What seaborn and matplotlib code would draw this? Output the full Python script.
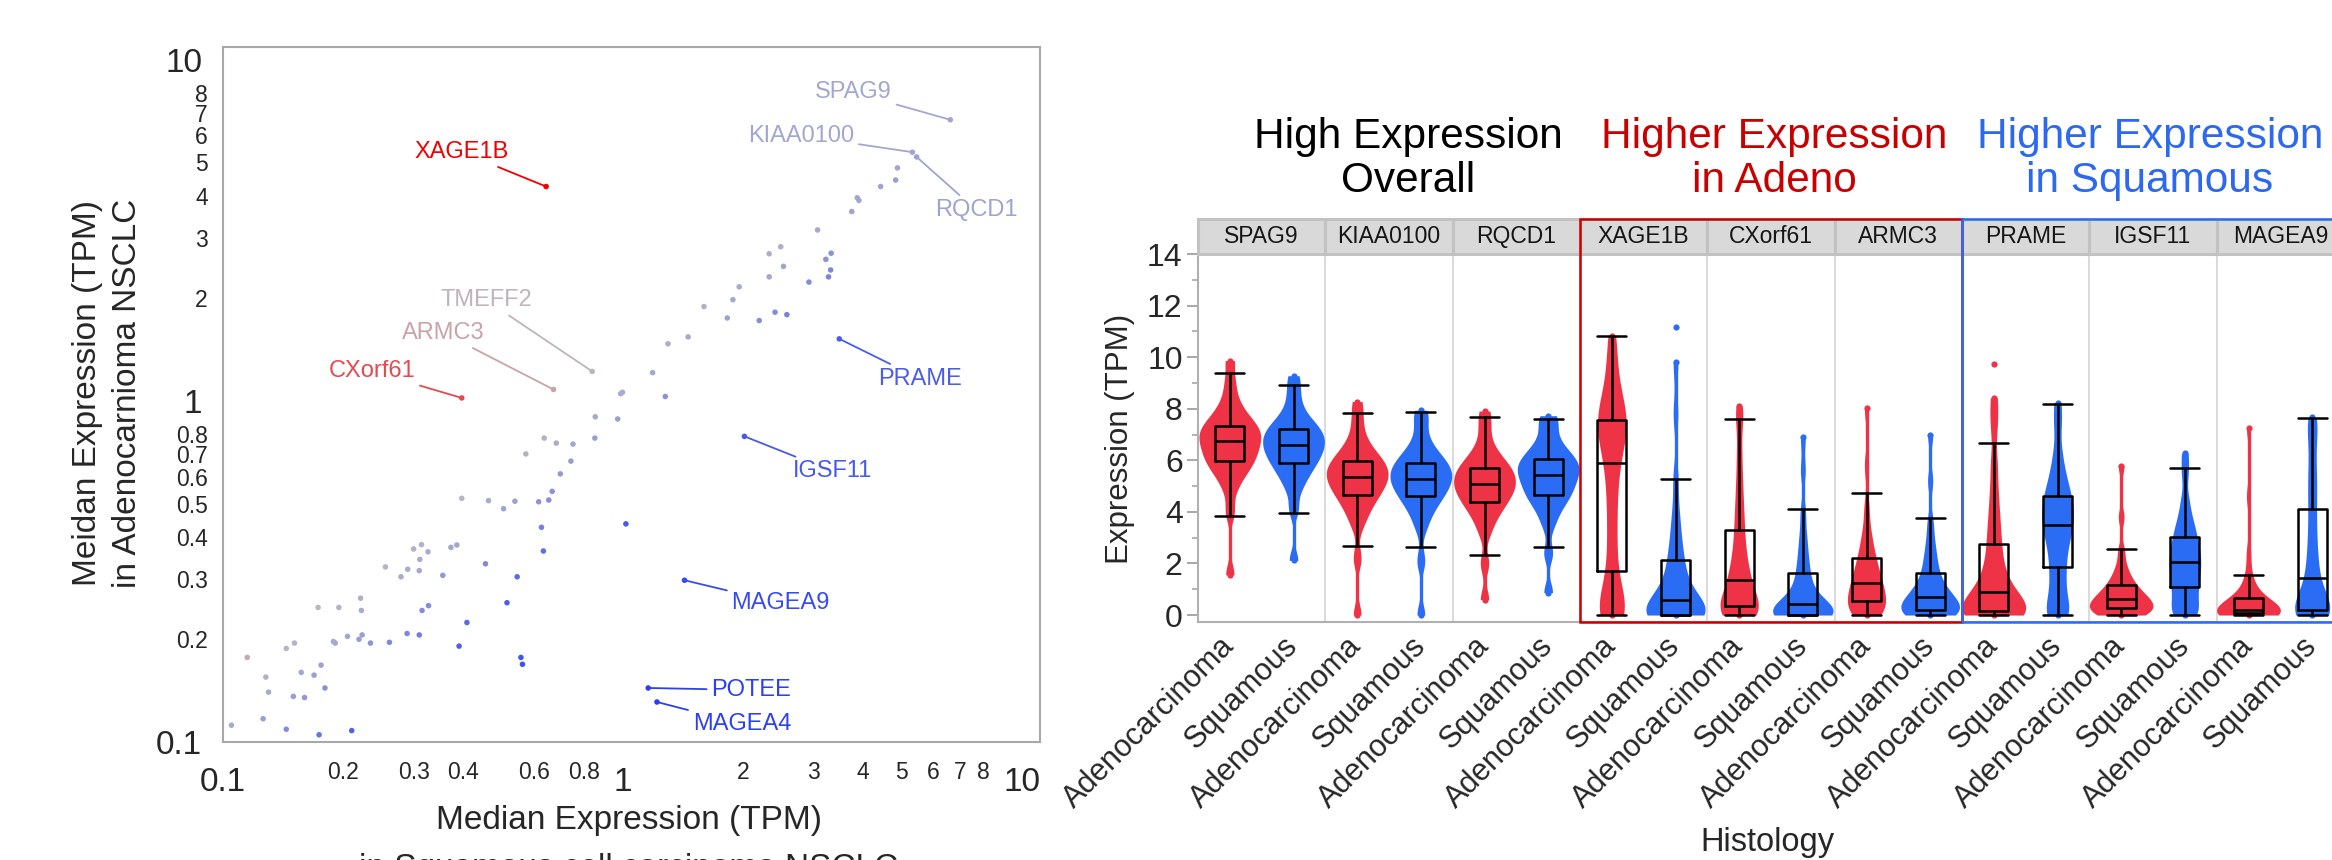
import numpy as np
import pandas as pd
import matplotlib
matplotlib.use('Agg')
import matplotlib.pyplot as plt
import matplotlib.transforms as mtransforms
from matplotlib.colors import LinearSegmentedColormap, Normalize
from matplotlib.patches import Rectangle
import seaborn as sns

sns.set_style('white')
plt.rcParams['font.family'] = ['Liberation Sans', 'DejaVu Sans']

# ---------------- left panel: median TPM, squamous (x) vs adeno (y) ----------------
squam_median = [4.88, 4.83, 4.43, 3.87, 3.91, 3.75, 3.08, 2.33, 2.49, 2.53, 2.33, 1.96, 1.89, 1.60,
                1.83, 2.20, 2.41, 2.58, 3.33, 3.23, 3.32, 3.28, 2.93, 1.46, 1.30, 1.19, 1.00, 0.99,
                1.28, 0.855, 0.973, 0.853, 0.752, 0.683, 0.637, 0.573, 0.743, 0.699, 0.667, 0.654,
                0.617, 0.538, 0.504, 0.462, 0.396, 0.627, 0.634, 1.02, 0.545, 0.514, 0.454, 0.408,
                0.390, 0.557, 0.562, 0.355, 0.326, 0.314, 0.300, 0.311, 0.310, 0.290, 0.279, 0.255,
                0.385, 0.372, 0.327, 0.315, 0.221, 0.222, 0.195, 0.173, 0.234, 0.223, 0.219, 0.205,
                0.261, 0.289, 0.310, 0.191, 0.189, 0.151, 0.144, 0.115, 0.128, 0.130, 0.157, 0.169,
                0.176, 0.180, 0.150, 0.160, 0.105, 0.126, 0.144, 0.174, 0.210]
adeno_median = [4.82, 4.44, 4.25, 3.94, 3.87, 3.59, 3.17, 2.70, 2.83, 2.48, 2.31, 2.16, 1.98, 1.89,
                1.75, 1.72, 1.82, 1.79, 2.71, 2.60, 2.42, 2.31, 2.23, 1.54, 1.47, 1.21, 1.06, 1.05,
                1.03, 0.898, 0.885, 0.778, 0.747, 0.752, 0.778, 0.699, 0.666, 0.611, 0.543, 0.512,
                0.506, 0.508, 0.483, 0.510, 0.518, 0.426, 0.363, 0.436, 0.305, 0.256, 0.333, 0.224,
                0.191, 0.177, 0.169, 0.308, 0.361, 0.379, 0.368, 0.343, 0.318, 0.321, 0.305, 0.326,
                0.378, 0.372, 0.251, 0.243, 0.264, 0.243, 0.248, 0.248, 0.195, 0.206, 0.200, 0.204,
                0.196, 0.208, 0.206, 0.195, 0.197, 0.195, 0.188, 0.177, 0.155, 0.140, 0.160, 0.157,
                0.168, 0.144, 0.136, 0.135, 0.112, 0.117, 0.109, 0.105, 0.108]

labeled_genes = ['SPAG9', 'KIAA0100', 'RQCD1', 'XAGE1B', 'TMEFF2', 'ARMC3', 'CXorf61',
                 'PRAME', 'IGSF11', 'MAGEA9', 'POTEE', 'MAGEA4']
labeled_squam = [6.62, 5.32, 5.45, 0.644, 0.84, 0.672, 0.396, 3.49, 2.02, 1.43, 1.16, 1.22]
labeled_adeno = [6.67, 5.36, 5.19, 4.25, 1.22, 1.08, 1.02, 1.52, 0.787, 0.298, 0.144, 0.131]
# where each gene name sits (data coords)
label_text_pos = {'SPAG9': (3.79, 8.02), 'KIAA0100': (2.80, 5.99), 'RQCD1': (7.7, 3.62),
                  'XAGE1B': (0.396, 5.36), 'TMEFF2': (0.457, 1.97), 'ARMC3': (0.357, 1.58),
                  'CXorf61': (0.236, 1.22), 'PRAME': (5.57, 1.16), 'IGSF11': (3.36, 0.621),
                  'MAGEA9': (2.49, 0.255), 'POTEE': (2.10, 0.142), 'MAGEA4': (1.99, 0.113)}

# ---------------- right panel: TPM distributions ----------------
genes = ['SPAG9', 'KIAA0100', 'RQCD1', 'XAGE1B', 'CXorf61', 'ARMC3', 'PRAME', 'IGSF11', 'MAGEA9']
histology = ['Adenocarcinoma', 'Squamous']

# box summaries
adeno_lo = [3.85, 2.69, 2.34, 0, 0, 0, 0, 0, 0]
adeno_q1 = [5.97, 4.67, 4.40, 1.70, 0.35, 0.55, 0.14, 0.28, 0.07]
adeno_med = [6.73, 5.36, 5.08, 5.90, 1.37, 1.23, 0.89, 0.62, 0.21]
adeno_q3 = [7.34, 5.97, 5.71, 7.55, 3.28, 2.20, 2.74, 1.16, 0.68]
adeno_hi = [9.39, 7.83, 7.69, 10.83, 7.62, 4.74, 6.66, 2.55, 1.57]
squam_lo = [3.97, 2.62, 2.62, 0, 0, 0, 0, 0, 0]
squam_q1 = [5.90, 4.61, 4.67, 0, 0, 0.21, 1.86, 1.09, 0.21]
squam_med = [6.59, 5.29, 5.43, 0.60, 0.42, 0.69, 3.50, 2.05, 1.44]
squam_q3 = [7.20, 5.90, 6.04, 2.12, 1.63, 1.63, 4.60, 3.02, 4.13]
squam_hi = [8.92, 7.89, 7.62, 5.29, 4.13, 3.78, 8.17, 5.69, 7.63]

# approximate quantiles (min, 1%, 5%..95% by 5, 99%, max)
adeno_samples = {
    'SPAG9': [1.56, 4.0, 4.9, 5.35, 5.6, 5.8, 5.97, 6.12, 6.27, 6.42, 6.58, 6.73, 6.85, 6.97, 7.1, 7.22, 7.34, 7.5, 7.7, 7.95, 8.35, 9.0, 9.87],
    'KIAA0100': [0.0, 2.2, 3.5, 3.95, 4.25, 4.48, 4.67, 4.83, 4.98, 5.12, 5.24, 5.36, 5.48, 5.6, 5.72, 5.84, 5.97, 6.12, 6.3, 6.55, 6.95, 7.6, 8.28],
    'RQCD1': [0.6, 2.0, 3.2, 3.7, 3.98, 4.2, 4.4, 4.55, 4.69, 4.83, 4.96, 5.08, 5.2, 5.32, 5.45, 5.58, 5.71, 5.86, 6.03, 6.27, 6.65, 7.3, 7.91],
    'XAGE1B': [0.0, 0.0, 0.05, 0.2, 0.5, 1.0, 1.7, 2.6, 3.5, 4.4, 5.2, 5.9, 6.4, 6.8, 7.1, 7.35, 7.55, 7.8, 8.1, 8.5, 9.1, 10.0, 10.83],
    'CXorf61': [0.0, 0.0, 0.02, 0.08, 0.15, 0.25, 0.35, 0.5, 0.7, 0.92, 1.15, 1.37, 1.62, 1.92, 2.3, 2.75, 3.28, 3.85, 4.5, 5.3, 6.3, 7.5, 8.10],
    'ARMC3': [0.0, 0.0, 0.08, 0.2, 0.32, 0.44, 0.55, 0.68, 0.82, 0.95, 1.09, 1.23, 1.38, 1.55, 1.75, 1.96, 2.2, 2.5, 2.85, 3.35, 4.2, 5.8, 8.03],
    'PRAME': [0.0, 0.0, 0.0, 0.02, 0.05, 0.09, 0.14, 0.24, 0.38, 0.52, 0.7, 0.89, 1.12, 1.4, 1.76, 2.2, 2.74, 3.3, 3.95, 4.8, 5.9, 7.4, 8.42],
    'IGSF11': [0.0, 0.0, 0.03, 0.09, 0.15, 0.22, 0.28, 0.34, 0.41, 0.48, 0.55, 0.62, 0.7, 0.79, 0.89, 1.01, 1.16, 1.34, 1.56, 1.9, 2.5, 3.8, 5.79],
    'MAGEA9': [0.0, 0.0, 0.0, 0.01, 0.03, 0.05, 0.07, 0.1, 0.13, 0.16, 0.18, 0.21, 0.26, 0.32, 0.42, 0.54, 0.68, 0.86, 1.12, 1.55, 2.4, 4.6, 7.27],
}
squam_samples = {
    'SPAG9': [2.12, 4.1, 4.85, 5.25, 5.5, 5.72, 5.9, 6.05, 6.2, 6.33, 6.46, 6.59, 6.71, 6.83, 6.95, 7.08, 7.2, 7.35, 7.52, 7.75, 8.15, 8.7, 9.28],
    'KIAA0100': [0.0, 2.1, 3.4, 3.9, 4.2, 4.42, 4.61, 4.77, 4.91, 5.05, 5.17, 5.29, 5.41, 5.53, 5.65, 5.77, 5.9, 6.05, 6.22, 6.45, 6.85, 7.5, 7.94],
    'RQCD1': [0.87, 2.4, 3.5, 3.98, 4.28, 4.49, 4.67, 4.83, 4.98, 5.14, 5.29, 5.43, 5.55, 5.67, 5.79, 5.91, 6.04, 6.18, 6.35, 6.58, 6.95, 7.45, 7.73],
    'XAGE1B': [0.0, 0.0, 0.0, 0.0, 0.0, 0.0, 0.0, 0.05, 0.15, 0.28, 0.42, 0.6, 0.82, 1.08, 1.4, 1.75, 2.12, 2.6, 3.2, 4.0, 5.3, 7.8, 9.8],
    'CXorf61': [0.0, 0.0, 0.0, 0.0, 0.0, 0.0, 0.0, 0.06, 0.14, 0.22, 0.31, 0.42, 0.56, 0.74, 0.97, 1.27, 1.63, 2.0, 2.5, 3.1, 4.0, 5.6, 6.9],
    'ARMC3': [0.0, 0.0, 0.0, 0.02, 0.08, 0.14, 0.21, 0.3, 0.4, 0.5, 0.59, 0.69, 0.8, 0.94, 1.1, 1.34, 1.63, 1.95, 2.35, 2.85, 3.6, 5.2, 7.0],
    'PRAME': [0.0, 0.0, 0.15, 0.5, 1.0, 1.45, 1.86, 2.3, 2.7, 3.02, 3.27, 3.5, 3.72, 3.93, 4.15, 4.37, 4.6, 4.88, 5.2, 5.65, 6.3, 7.4, 8.24],
    'IGSF11': [0.0, 0.0, 0.15, 0.38, 0.65, 0.88, 1.09, 1.3, 1.5, 1.7, 1.88, 2.05, 2.22, 2.4, 2.6, 2.8, 3.02, 3.27, 3.55, 3.92, 4.5, 5.5, 6.27],
    'MAGEA9': [0.0, 0.0, 0.02, 0.06, 0.11, 0.16, 0.21, 0.35, 0.55, 0.8, 1.1, 1.44, 1.85, 2.3, 2.85, 3.45, 4.13, 4.75, 5.35, 6.0, 6.8, 7.4, 7.66],
}
adeno_outliers = {'PRAME': [9.75]}
squam_outliers = {'XAGE1B': [11.15]}

# styling
RED, BLUE = '#EE3347', '#2A6DF4'
TITLE_RED, TITLE_BLUE = '#C80000', '#2D68F0'
adeno_vwidth = [0.97, 0.97, 0.97, 0.45, 0.6, 0.6, 1.0, 1.0, 1.0]
squam_vwidth = [0.97, 0.97, 0.97, 0.93, 0.95, 0.92, 0.5, 0.5, 0.55]

W, H = 2332, 860
fig = plt.figure(figsize=(W / 100, H / 100), dpi=100)

# ======================= left scatter =======================
axL = fig.add_axes([223 / W, 1 - 742 / H, (1040 - 223) / W, (742 - 47) / H])

vmin, vmax = -3.0, 2.72
anchors = [-3.0, -1.0, -0.45, 0.0, 0.5, 0.68, 1.37, 2.72]
anchor_cols = ['#2B40F5', '#4D5FEA', '#7F88DC', '#A3A7D0', '#BABABF', '#C9A3A9', '#E64A4F', '#F20000']
cmap = LinearSegmentedColormap.from_list(
    'ratio', [((a - vmin) / (vmax - vmin), c) for a, c in zip(anchors, anchor_cols)])
norm = Normalize(vmin, vmax)

pts = pd.DataFrame({'squam': squam_median + labeled_squam,
                    'adeno': adeno_median + labeled_adeno})
pts['log2ratio'] = np.log2(pts['adeno'] / pts['squam'])
sns.scatterplot(data=pts, x='squam', y='adeno', hue='log2ratio', palette=cmap, hue_norm=norm,
                s=16, linewidth=0, legend=False, ax=axL, zorder=3)
axL.set_xscale('log')
axL.set_yscale('log')
axL.set_xlim(0.1, 11.1)
axL.set_ylim(0.1, 10.9)
axL.set_xlabel('')
axL.set_ylabel('')

for g, x, y in zip(labeled_genes, labeled_squam, labeled_adeno):
    c = cmap(norm(np.log2(y / x)))
    axL.annotate(g, xy=(x, y), xytext=label_text_pos[g], textcoords='data',
                 ha='center', va='center', fontsize=17, color=c,
                 arrowprops=dict(arrowstyle='-', color=c, lw=1.3, shrinkA=1, shrinkB=0))

axL.set_xticks([0.1, 1, 10], labels=['0.1', '1', '10'])
axL.set_yticks([0.1, 1, 10], labels=['0.1', '1', '10'])
minor_vals = [0.2, 0.3, 0.4, 0.5, 0.6, 0.7, 0.8, 0.9, 2, 3, 4, 5, 6, 7, 8, 9]
x_minor_lab = ['0.2', '0.3', '0.4', '', '0.6', '', '0.8', '', '2', '3', '4', '5', '6', '7', '8', '']
y_minor_lab = ['0.2', '0.3', '0.4', '0.5', '0.6', '0.7', '0.8', '', '2', '3', '4', '5', '6', '7', '8', '']
axL.set_xticks(minor_vals, labels=x_minor_lab, minor=True)
axL.set_yticks(minor_vals, labels=y_minor_lab, minor=True)
axL.tick_params(which='major', labelsize=24, length=10, width=1.3, color='#9A9A9A')
axL.tick_params(which='minor', labelsize=16.5, length=6, width=1.1, color='#9A9A9A')
axL.tick_params(axis='x', which='both', pad=8)
axL.tick_params(axis='y', which='both', pad=5)
for s in axL.spines.values():
    s.set_color('#A8A8A8')
    s.set_linewidth(1.5)

fig.text(629 / W, 1 - 821 / H, 'Median Expression (TPM)', ha='center', va='center', fontsize=24)
fig.text(629 / W, 1 - 868 / H, 'in Squamous cell carcinoma NSCLC', ha='center', va='center', fontsize=24)
fig.text(88 / W, 1 - 393 / H, 'Meidan Expression (TPM)', ha='center', va='center', fontsize=24, rotation=90)
fig.text(128 / W, 1 - 393 / H, 'in Adenocarnioma NSCLC', ha='center', va='center', fontsize=24, rotation=90)

# ======================= right violins =======================
axR = fig.add_axes([1198 / W, 1 - 622 / H, (2344 - 1198) / W, (622 - 254) / H])
axS = fig.add_axes([1198 / W, 1 - 254 / H, (2344 - 1198) / W, 35 / H])

order = [f'{g} {h}' for g in genes for h in histology]
stats = []
for i, g in enumerate(genes):
    groups = [(adeno_samples[g], RED, adeno_vwidth[i], adeno_outliers.get(g, []),
               (adeno_lo[i], adeno_q1[i], adeno_med[i], adeno_q3[i], adeno_hi[i])),
              (squam_samples[g], BLUE, squam_vwidth[i], squam_outliers.get(g, []),
               (squam_lo[i], squam_q1[i], squam_med[i], squam_q3[i], squam_hi[i]))]
    for j, (vals, col, vw, outl, box) in enumerate(groups):
        pos = 2 * i + j
        sns.violinplot(x=[order[pos]] * len(vals), y=vals, order=order, color=col, saturation=1,
                       width=vw, density_norm='width', cut=0, inner=None, linewidth=0,
                       bw_adjust=0.45, ax=axR, zorder=2)
        axR.vlines(pos, min(vals), max(vals), color=col, lw=2.4, zorder=1)
        axR.scatter([pos, pos] + [pos] * len(outl), [min(vals), max(vals)] + outl,
                    s=20, color=col, linewidths=0, zorder=2)
        lo, q1, med, q3, hi = box
        stats.append(dict(whislo=lo, q1=q1, med=med, q3=q3, whishi=hi, fliers=[]))

lp = dict(color='black', linewidth=1.8)
axR.bxp(stats, positions=list(range(len(order))), widths=0.46, capwidths=0.46,
        showfliers=False, patch_artist=False, boxprops=lp, whiskerprops=lp, capprops=lp,
        medianprops=lp, manage_ticks=False, zorder=4)

for k in range(1, len(genes)):
    axR.axvline(2 * k - 0.5, color='#D8D8D8', lw=1.3, zorder=0)

axR.set_xlim(-0.5, 2 * len(genes) - 0.5)
axR.set_ylim(-0.27, 14)
axR.set_xticks(range(len(order)))
axR.set_xticklabels(histology * len(genes), rotation=45, ha='right', va='center',
                    rotation_mode='anchor', fontsize=22)
axR.set_yticks(range(0, 15, 2))
axR.set_yticks(range(1, 14, 2), minor=True)
axR.tick_params(axis='x', length=0, pad=14)
axR.tick_params(axis='y', which='major', labelsize=23, length=8, width=1.3, color='#A0A0A0', pad=3, left=True)
axR.tick_params(axis='y', which='minor', length=4, width=1.1, color='#A0A0A0', left=True)
axR.set_xlabel('')
axR.set_ylabel('')
for side in ['top', 'right']:
    axR.spines[side].set_visible(False)
for side in ['left', 'bottom']:
    axR.spines[side].set_color('#B0B0B0')
    axR.spines[side].set_linewidth(1.5)

axS.set_xlim(-0.5, 2 * len(genes) - 0.5)
axS.set_ylim(0, 1)
axS.axis('off')
for i, g in enumerate(genes):
    axS.add_patch(Rectangle((2 * i - 0.5, 0), 2, 1, facecolor='#D9D9D9', edgecolor='#C2C2C2',
                            lw=2.2, clip_on=False))
    axS.text(2 * i + 0.5, 0.5, g, ha='center', va='center', fontsize=16.5, color='#151515')

# group frames
bl = mtransforms.blended_transform_factory(axR.transData, fig.transFigure)
y0 = 1 - 622 / H
hgt = (622 - 219) / H
fig.add_artist(Rectangle((5.5, y0), 6, hgt, transform=bl, fill=False, edgecolor=TITLE_RED,
                         lw=1.8, zorder=10))
fig.add_artist(Rectangle((11.5, y0), 6.3, hgt, transform=bl, fill=False, edgecolor=BLUE,
                         lw=1.8, zorder=10))

fig.text(1408 / W, 1 - 159 / H, 'High Expression\nOverall', ha='center', va='center',
         fontsize=30.5, linespacing=1.15, color='black')
fig.text(1774 / W, 1 - 159 / H, 'Higher Expression\nin Adeno', ha='center', va='center',
         fontsize=30.5, linespacing=1.15, color=TITLE_RED)
fig.text(2150 / W, 1 - 159 / H, 'Higher Expression\nin Squamous', ha='center', va='center',
         fontsize=30.5, linespacing=1.15, color=TITLE_BLUE)

fig.text(1120 / W, 1 - 439 / H, 'Expression (TPM)', ha='center', va='center', fontsize=22.5, rotation=90)
fig.text(1767 / W, 1 - 843 / H, 'Histology', ha='center', va='center', fontsize=23.5)

fig.savefig('out.png', dpi=100)
